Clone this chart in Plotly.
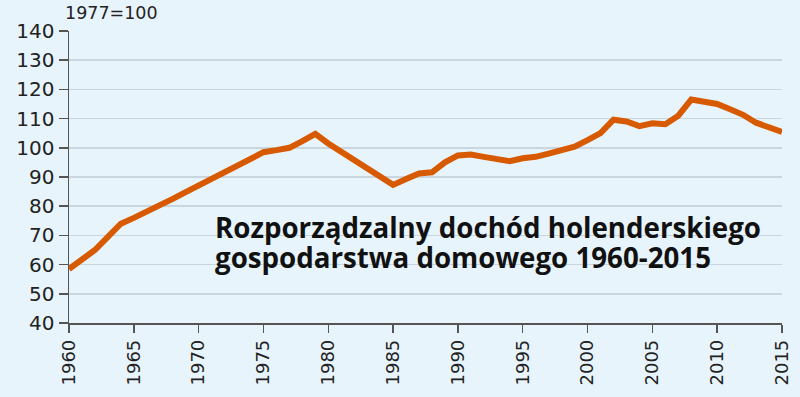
import plotly.graph_objects as go

years = list(range(1960, 2016))
income_index = [
    58.5, 61.8, 65.0, 69.5, 74.0, 76.0, 78.0, 80.2, 82.5, 84.8,
    87.0, 89.2, 91.5, 94.0, 96.2, 98.5, 99.2, 100.0, 102.3, 104.8,
    101.5, 98.6, 95.8, 93.0, 90.2, 87.3, 89.3, 91.2, 91.6, 95.0,
    97.4, 97.7, 96.9, 96.2, 95.4, 96.4, 96.9, 98.0, 99.2, 100.4,
    102.6, 105.0, 109.6, 109.0, 107.4, 108.4, 108.1, 111.0, 116.5, 115.8,
    115.0, 113.2, 111.3, 108.6, 106.9, 105.4,
]
x_ticks = list(range(1960, 2016, 5))
y_ticks = list(range(40, 141, 10))
unit_label = "1977=100"
title_lines = ["Rozporządzalny dochód holenderskiego", "gospodarstwa domowego 1960-2015"]

BG = "#E8F4FC"
fig = go.Figure()
fig.add_trace(go.Scatter(
    x=years, y=income_index, mode="lines",
    line=dict(color="#D85A00", width=6),
    cliponaxis=False, hoverinfo="skip",
))

fig.update_layout(
    width=800, height=397,
    paper_bgcolor=BG, plot_bgcolor=BG,
    margin=dict(l=69, r=18, t=31, b=74, autoexpand=False),
    showlegend=False,
    font=dict(family="DejaVu Sans", color="#222222"),
    xaxis=dict(
        range=[1960, 2015], tickmode="array", tickvals=x_ticks,
        ticktext=[str(t) for t in x_ticks], tickangle=-90,
        ticks="outside", ticklen=8, tickwidth=1.5, tickcolor="#555555",
        showline=True, linecolor="#555555", linewidth=1.5,
        showgrid=False, zeroline=False,
        tickfont=dict(family="DejaVu Sans", size=18, color="#222222"),
    ),
    yaxis=dict(
        range=[40, 140], tickmode="array", tickvals=y_ticks,
        ticks="outside", ticklen=9, tickwidth=1.5, tickcolor="#555555",
        showline=True, linecolor="#555555", linewidth=1.5,
        showgrid=True, gridcolor="#C9D6E0", gridwidth=1.5,
        zeroline=False,
        tickfont=dict(family="DejaVu Sans", size=20, color="#222222"),
    ),
)

fig.add_annotation(
    text=unit_label, xref="paper", yref="paper",
    x=-0.009, y=1.062, xanchor="left", yanchor="middle",
    showarrow=False, font=dict(family="DejaVu Sans", size=17.5, color="#222222"),
)
for i, line in enumerate(title_lines):
    fig.add_annotation(
        text="<b>" + line + "</b>", xref="paper", yref="paper",
        x=(213 - 69.3) / 712.4, y=(322.7 - (227 + 29.5 * i)) / 291.2,
        xanchor="left", yanchor="middle", showarrow=False,
        font=dict(family="Open Sans", size=27.7, color="#111111"),
    )

fig.write_html(
    "out.html",
    config={"displayModeBar": False, "staticPlot": True},
    post_script="document.body.style.margin='0px';",
)
